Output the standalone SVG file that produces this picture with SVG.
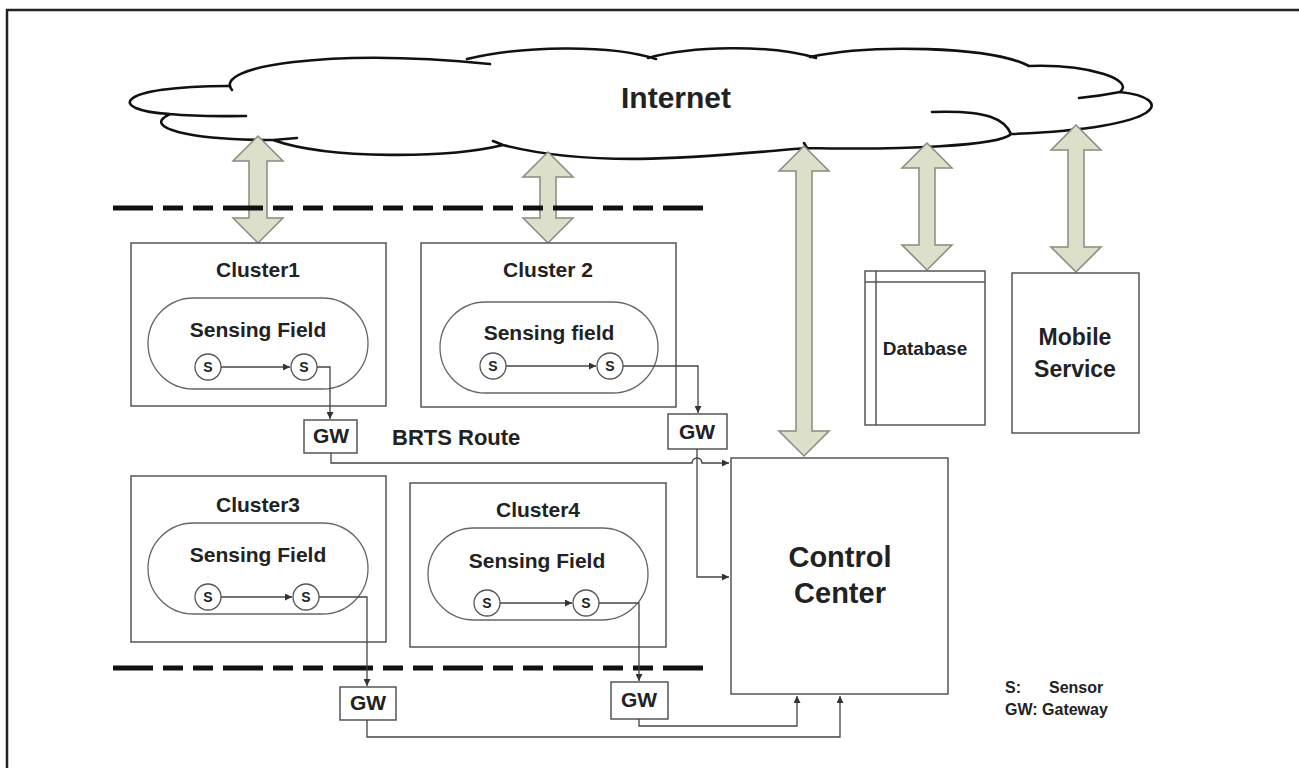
<svg xmlns="http://www.w3.org/2000/svg" width="1299" height="768" viewBox="0 0 1299 768">
<defs>
<style>
.t{font-family:"Liberation Sans",Arial,sans-serif;font-weight:bold;fill:#222;}
.box{fill:#fff;stroke:#555;stroke-width:1.5;}
.fld{fill:none;stroke:#666;stroke-width:1.3;}
.sn{fill:#fff;stroke:#555;stroke-width:1.3;}
.ln{fill:none;stroke:#444;stroke-width:1.3;}
.dbl{fill:#dcdfca;stroke:#8a8b7c;stroke-width:1.5;}
.dash{stroke:#111;stroke-width:5;stroke-dasharray:40 10 20 10 20 10;}
.cl{fill:none;stroke:#111;stroke-width:2.6;stroke-linecap:round;}
</style>
<marker id="ah" viewBox="0 0 8 8" refX="8" refY="4" markerWidth="7" markerHeight="7" markerUnits="userSpaceOnUse" orient="auto">
<path d="M0,0 L8,4 L0,8 z" fill="#333"/>
</marker>
</defs>
<rect x="0" y="0" width="1299" height="768" fill="#fff"/>
<rect x="7" y="10" width="1320" height="800" fill="none" stroke="#222" stroke-width="2.5"/>

<g id="internet">
<path d="M228,86 C212,66 330,48 478,62 C520,46 610,44 652,57 C690,46 770,44 812,56 C870,44 990,46 1029,66 C1090,64 1135,80 1120,92 C1175,98 1170,128 1011,134 C1000,146 900,150 807,148 C720,155 600,170 503,145 C450,158 330,160 273,140 C190,140 140,128 170,114 C105,110 115,86 228,86 Z" fill="#fff" stroke="none"/>
<path class="cl" d="M232,90 C212,66 330,48 490,64 M467,59 C520,46 610,44 656,59 M648,58 C690,46 770,44 816,58 M810,57 C870,44 990,46 1029,66 C1090,64 1135,80 1120,92 C1100,96 1090,97 1079,98 M1120,92 C1175,98 1170,128 1011,134 C1000,146 900,150 807,148 L804,143 M807,148 C720,155 600,170 503,145 L493,141 M503,145 C450,158 330,160 273,140 L297,138 M273,140 C190,140 140,128 170,114 M170,114 C105,110 115,86 228,86 M170,114 C200,117 220,116 246,116 M932,112 C990,110 1005,120 1011,134"/>
<text class="t" x="676" y="108" font-size="30" text-anchor="middle">Internet</text>
</g>

<g id="links">
<polygon class="dbl" points="258,136 283,161 267,161 267,218 283,218 258,243 233,218 249,218 249,161 233,161"/>
<polygon class="dbl" points="548,152 573,177 556,177 556,218 573,218 548,243 523,218 540,218 540,177 523,177"/>
<polygon class="dbl" points="804,146 829,171 812,171 812,431 829,431 804,456 779,431 796,431 796,171 779,171"/>
<polygon class="dbl" points="927,143 952,168 935,168 935,245 952,245 927,270 902,245 919,245 919,168 902,168"/>
<polygon class="dbl" points="1076,125 1101,150 1084,150 1084,247 1101,247 1076,272 1051,247 1068,247 1068,150 1051,150"/>
</g>

<line class="dash" x1="113" y1="208" x2="713" y2="208"/>
<line class="dash" x1="113" y1="668" x2="713" y2="668"/>

<g id="cluster1">
<rect class="box" x="131" y="243" width="255" height="163"/>
<text class="t" x="258" y="277" font-size="21" text-anchor="middle">Cluster1</text>
<rect class="fld" x="148" y="298" width="220" height="91" rx="45.5"/>
<text class="t" x="258" y="337" font-size="21" text-anchor="middle">Sensing Field</text>
<circle class="sn" cx="208" cy="367" r="13"/><text class="t" x="208" y="372" font-size="14" text-anchor="middle">S</text>
<circle class="sn" cx="304" cy="367" r="13"/><text class="t" x="304" y="372" font-size="14" text-anchor="middle">S</text>
</g>

<g id="cluster2">
<rect class="box" x="421" y="243" width="255" height="164"/>
<text class="t" x="548" y="277" font-size="21" text-anchor="middle">Cluster 2</text>
<rect class="fld" x="440" y="302" width="218" height="91" rx="45.5"/>
<text class="t" x="549" y="340" font-size="21" text-anchor="middle">Sensing field</text>
<circle class="sn" cx="493" cy="366" r="13"/><text class="t" x="493" y="371" font-size="14" text-anchor="middle">S</text>
<circle class="sn" cx="610" cy="366" r="13"/><text class="t" x="610" y="371" font-size="14" text-anchor="middle">S</text>
</g>

<g id="cluster3">
<rect class="box" x="131" y="476" width="255" height="166"/>
<text class="t" x="258" y="512" font-size="21" text-anchor="middle">Cluster3</text>
<rect class="fld" x="148" y="523" width="220" height="91" rx="45.5"/>
<text class="t" x="258" y="562" font-size="21" text-anchor="middle">Sensing Field</text>
<circle class="sn" cx="208" cy="597" r="13"/><text class="t" x="208" y="602" font-size="14" text-anchor="middle">S</text>
<circle class="sn" cx="306" cy="597" r="13"/><text class="t" x="306" y="602" font-size="14" text-anchor="middle">S</text>
</g>

<g id="cluster4">
<rect class="box" x="410" y="483" width="256" height="164"/>
<text class="t" x="538" y="517" font-size="21" text-anchor="middle">Cluster4</text>
<rect class="fld" x="428" y="528" width="220" height="92" rx="46"/>
<text class="t" x="537" y="568" font-size="21" text-anchor="middle">Sensing Field</text>
<circle class="sn" cx="487" cy="603" r="13"/><text class="t" x="487" y="608" font-size="14" text-anchor="middle">S</text>
<circle class="sn" cx="586" cy="603" r="13"/><text class="t" x="586" y="608" font-size="14" text-anchor="middle">S</text>
</g>

<g id="gw1"><rect class="box" x="304" y="420" width="53" height="33"/><text class="t" x="331" y="443" font-size="21" text-anchor="middle">GW</text></g>
<g id="gw2"><rect class="box" x="668" y="414" width="59" height="35"/><text class="t" x="697" y="439" font-size="21" text-anchor="middle">GW</text></g>
<g id="gw3"><rect class="box" x="340" y="687" width="56" height="33"/><text class="t" x="368" y="710" font-size="21" text-anchor="middle">GW</text></g>
<g id="gw4"><rect class="box" x="611" y="682" width="57" height="37"/><text class="t" x="639" y="707" font-size="21" text-anchor="middle">GW</text></g>

<text id="brts" class="t" x="392" y="445" font-size="22">BRTS Route</text>

<g id="control-center">
<rect class="box" x="731" y="458" width="217" height="236"/>
<text class="t" x="840" y="567" font-size="29" text-anchor="middle">Control</text>
<text class="t" x="840" y="603" font-size="29" text-anchor="middle">Center</text>
</g>

<g id="database">
<rect class="box" x="865" y="271" width="120" height="154"/>
<line x1="876" y1="271" x2="876" y2="425" stroke="#555" stroke-width="1.5"/>
<line x1="865" y1="282" x2="985" y2="282" stroke="#555" stroke-width="1.5"/>
<text class="t" x="925" y="355" font-size="19" text-anchor="middle">Database</text>
</g>

<g id="mobile-service">
<rect class="box" x="1012" y="273" width="127" height="160"/>
<text class="t" x="1075" y="345" font-size="23" text-anchor="middle">Mobile</text>
<text class="t" x="1075" y="377" font-size="23" text-anchor="middle">Service</text>
</g>

<g id="legend">
<text class="t" x="1005" y="693" font-size="16">S:</text>
<text class="t" x="1049" y="693" font-size="16">Sensor</text>
<text class="t" x="1005" y="715" font-size="16">GW: Gateway</text>
</g>

<g id="connectors">
<line class="ln" x1="221" y1="367" x2="290" y2="367" marker-end="url(#ah)"/>
<path class="ln" d="M317,367 H330 V419" marker-end="url(#ah)"/>
<line class="ln" x1="506" y1="366" x2="596" y2="366" marker-end="url(#ah)"/>
<path class="ln" d="M623,366 H698 V413" marker-end="url(#ah)"/>
<line class="ln" x1="221" y1="597" x2="292" y2="597" marker-end="url(#ah)"/>
<path class="ln" d="M319,597 H367 V686" marker-end="url(#ah)"/>
<line class="ln" x1="500" y1="603" x2="572" y2="603" marker-end="url(#ah)"/>
<path class="ln" d="M599,603 H639 V681" marker-end="url(#ah)"/>
<path class="ln" d="M331,453 V463 H692 A5,5 0 0 1 702,463 H729" marker-end="url(#ah)"/>
<path class="ln" d="M697,449 V577 H729" marker-end="url(#ah)"/>
<path class="ln" d="M367,720 V737 H840 V696" marker-end="url(#ah)"/>
<path class="ln" d="M639,719 V726 H797 V696" marker-end="url(#ah)"/>
</g>
</svg>
